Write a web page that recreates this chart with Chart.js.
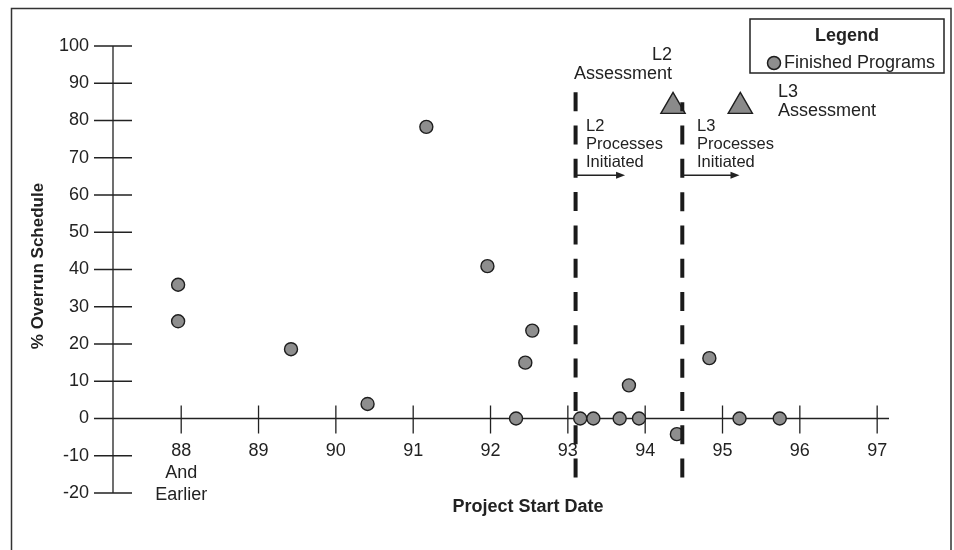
<!DOCTYPE html>
<html lang="en">
<head>
<meta charset="UTF-8">
<title>% Overrun Schedule by Project Start Date</title>
<script src="https://cdn.jsdelivr.net/npm/chart.js@4"></script>
<style>
  html, body { margin: 0; padding: 0; background: #fff; }
  #chart { display: block; }
</style>
</head>
<body>
<canvas id="chart" width="954" height="550"></canvas>
<script>
// finished programs: start date and % schedule overrun
const startYears = [87.96, 87.96, 89.42, 90.41, 91.17, 91.96, 92.45, 92.54, 92.33, 93.16, 93.33, 93.67, 93.79, 93.92, 94.41, 94.83, 95.22, 95.74];
const overrunPct = [35.9, 26.1, 18.6, 3.9, 78.3, 40.9, 15, 23.6, 0, 0, 0, 0, 8.9, 0, -4.2, 16.2, 0, 0];

// assessments (triangles)
const assessYears = [94.36, 95.23];
const assessPct = [83.8, 83.8];
const assessLabels = [['L2', 'Assessment'], ['L3', 'Assessment']];

// processes initiated (dashed lines + arrows)
const initYears = [93.10, 94.48];
const initTop = [87.6, 84.9];
const initBottom = [-16.1, -16.1];
const arrowEnd = [93.74, 95.22];
const arrowPct = 65.3;
const initLabels = [['L2', 'Processes', 'Initiated'], ['L3', 'Processes', 'Initiated']];

const xTickValues = [88, 89, 90, 91, 92, 93, 94, 95, 96, 97];
const xTickLabels = [['88', 'And', 'Earlier'], '89', '90', '91', '92', '93', '94', '95', '96', '97'];
const yTickValues = [-20, -10, 0, 10, 20, 30, 40, 50, 60, 70, 80, 90, 100];

const INK = '#222';
const FONT = '"Liberation Sans", Arial, Helvetica, sans-serif';
const DOT = '#8e8e8e';

// axes crossing at 0, with ticks on both sides
const axesPlugin = {
  id: 'axes',
  beforeDatasetsDraw(chart) {
    const { ctx, chartArea: a, scales: { x, y } } = chart;
    ctx.save();
    ctx.strokeStyle = INK;
    ctx.lineWidth = 1.3;
    ctx.beginPath();
    ctx.moveTo(a.left, y.getPixelForValue(yTickValues[yTickValues.length - 1]));
    ctx.lineTo(a.left, y.getPixelForValue(yTickValues[0]));
    yTickValues.forEach(v => {
      const py = y.getPixelForValue(v);
      ctx.moveTo(a.left - 19, py);
      ctx.lineTo(a.left + 19, py);
    });
    const y0 = y.getPixelForValue(0);
    ctx.moveTo(a.left, y0);
    ctx.lineTo(a.right, y0);
    xTickValues.forEach(v => {
      const px = x.getPixelForValue(v);
      ctx.moveTo(px, y0 - 13);
      ctx.lineTo(px, y0 + 15);
    });
    ctx.stroke();
    ctx.restore();
  }
};

// arrows, notes, titles, legend box, frame
const notesPlugin = {
  id: 'notes',
  afterDatasetsDraw(chart) {
    const { ctx, scales: { x, y } } = chart;
    ctx.save();
    ctx.fillStyle = INK;
    ctx.strokeStyle = INK;

    // arrows
    ctx.lineWidth = 1.3;
    initYears.forEach((v, i) => {
      const x1 = x.getPixelForValue(v), x2 = x.getPixelForValue(arrowEnd[i]);
      const py = y.getPixelForValue(arrowPct);
      ctx.beginPath();
      ctx.moveTo(x1, py);
      ctx.lineTo(x2 - 6, py);
      ctx.stroke();
      ctx.beginPath();
      ctx.moveTo(x2, py);
      ctx.lineTo(x2 - 9, py - 3.5);
      ctx.lineTo(x2 - 9, py + 3.5);
      ctx.closePath();
      ctx.fill();
    });

    ctx.textBaseline = 'middle';

    // processes initiated notes
    ctx.font = '16.5px ' + FONT;
    ctx.textAlign = 'left';
    const procX = [586, 697];
    initLabels.forEach((lines, i) => {
      lines.forEach((t, j) => ctx.fillText(t, procX[i], 126 + j * 18));
    });

    // assessment notes
    ctx.font = '18px ' + FONT;
    ctx.textAlign = 'right';
    assessLabels[0].forEach((t, j) => ctx.fillText(t, 672, 55 + j * 19));
    ctx.textAlign = 'left';
    assessLabels[1].forEach((t, j) => ctx.fillText(t, 778, 92 + j * 19));

    // axis titles
    ctx.font = 'bold 18px ' + FONT;
    ctx.textAlign = 'center';
    ctx.fillText('Project Start Date', 528, 507);
    ctx.save();
    ctx.translate(38, 266);
    ctx.rotate(-Math.PI / 2);
    ctx.font = 'bold 17px ' + FONT;
    ctx.fillText('% Overrun Schedule', 0, 0);
    ctx.restore();

    // legend
    const ds = chart.data.datasets[0];
    ctx.lineWidth = 1.5;
    ctx.strokeRect(750, 19, 194, 54);
    ctx.font = 'bold 18px ' + FONT;
    ctx.fillText('Legend', 847, 36);
    ctx.beginPath();
    ctx.arc(774, 63, 6.5, 0, Math.PI * 2);
    ctx.fillStyle = ds.pointBackgroundColor;
    ctx.fill();
    ctx.strokeStyle = ds.pointBorderColor;
    ctx.stroke();
    ctx.fillStyle = INK;
    ctx.strokeStyle = INK;
    ctx.font = '18px ' + FONT;
    ctx.textAlign = 'left';
    ctx.fillText(ds.label, 784, 63);

    // outer frame
    ctx.lineWidth = 1.5;
    ctx.strokeStyle = '#333';
    ctx.strokeRect(11.5, 8.5, 939.5, 560);
    ctx.restore();
  }
};

const dashed = (i) => ({
  label: initLabels[i].join(' '),
  data: [{ x: initYears[i], y: initTop[i] }, { x: initYears[i], y: initBottom[i] }],
  showLine: true,
  borderColor: '#1b1b1b',
  borderWidth: 4,
  borderDash: [19, 14.3],
  borderDashOffset: i === 0 ? 0 : 10,
  borderCapStyle: 'butt',
  pointRadius: 0,
  order: 0
});

new Chart(document.getElementById('chart'), {
  type: 'scatter',
  data: {
    datasets: [
      {
        label: 'Finished Programs',
        data: startYears.map((v, i) => ({ x: v, y: overrunPct[i] })),
        pointRadius: 6.5,
        pointBackgroundColor: DOT,
        pointBorderColor: '#1e1e1e',
        pointBorderWidth: 1.4,
        order: 2
      },
      {
        label: 'Assessments',
        data: assessYears.map((v, i) => ({ x: v, y: assessPct[i] })),
        pointStyle: 'triangle',
        pointRadius: 14,
        pointBackgroundColor: '#8a8a8a',
        pointBorderColor: '#1e1e1e',
        pointBorderWidth: 1.4,
        order: 1
      },
      dashed(0),
      dashed(1)
    ]
  },
  options: {
    responsive: false,
    animation: false,
    events: [],
    layout: { padding: { left: 0, top: 46, right: 65, bottom: 57 } },
    plugins: { legend: { display: false }, tooltip: { enabled: false } },
    scales: {
      x: {
        type: 'linear',
        position: { y: 0 },
        min: 87.118,
        max: 97.153,
        afterBuildTicks: s => { s.ticks = xTickValues.map(v => ({ value: v })); },
        grid: { display: false, drawTicks: true, tickLength: 15 },
        border: { display: false },
        ticks: {
          autoSkip: false,
          maxRotation: 0,
          padding: 7,
          color: INK,
          font: { family: FONT, size: 18, lineHeight: 1.22 },
          callback: v => {
            const i = xTickValues.indexOf(v);
            return i >= 0 ? xTickLabels[i] : '';
          }
        }
      },
      y: {
        type: 'linear',
        min: yTickValues[0],
        max: yTickValues[yTickValues.length - 1],
        afterBuildTicks: s => { s.ticks = yTickValues.map(v => ({ value: v })); },
        afterFit: s => { s.width = 113; },
        grid: { display: false, drawTicks: true, tickLength: 19 },
        border: { display: false },
        ticks: {
          padding: 5,
          color: INK,
          font: { family: FONT, size: 18 }
        }
      }
    }
  },
  plugins: [axesPlugin, notesPlugin]
});
</script>
</body>
</html>
